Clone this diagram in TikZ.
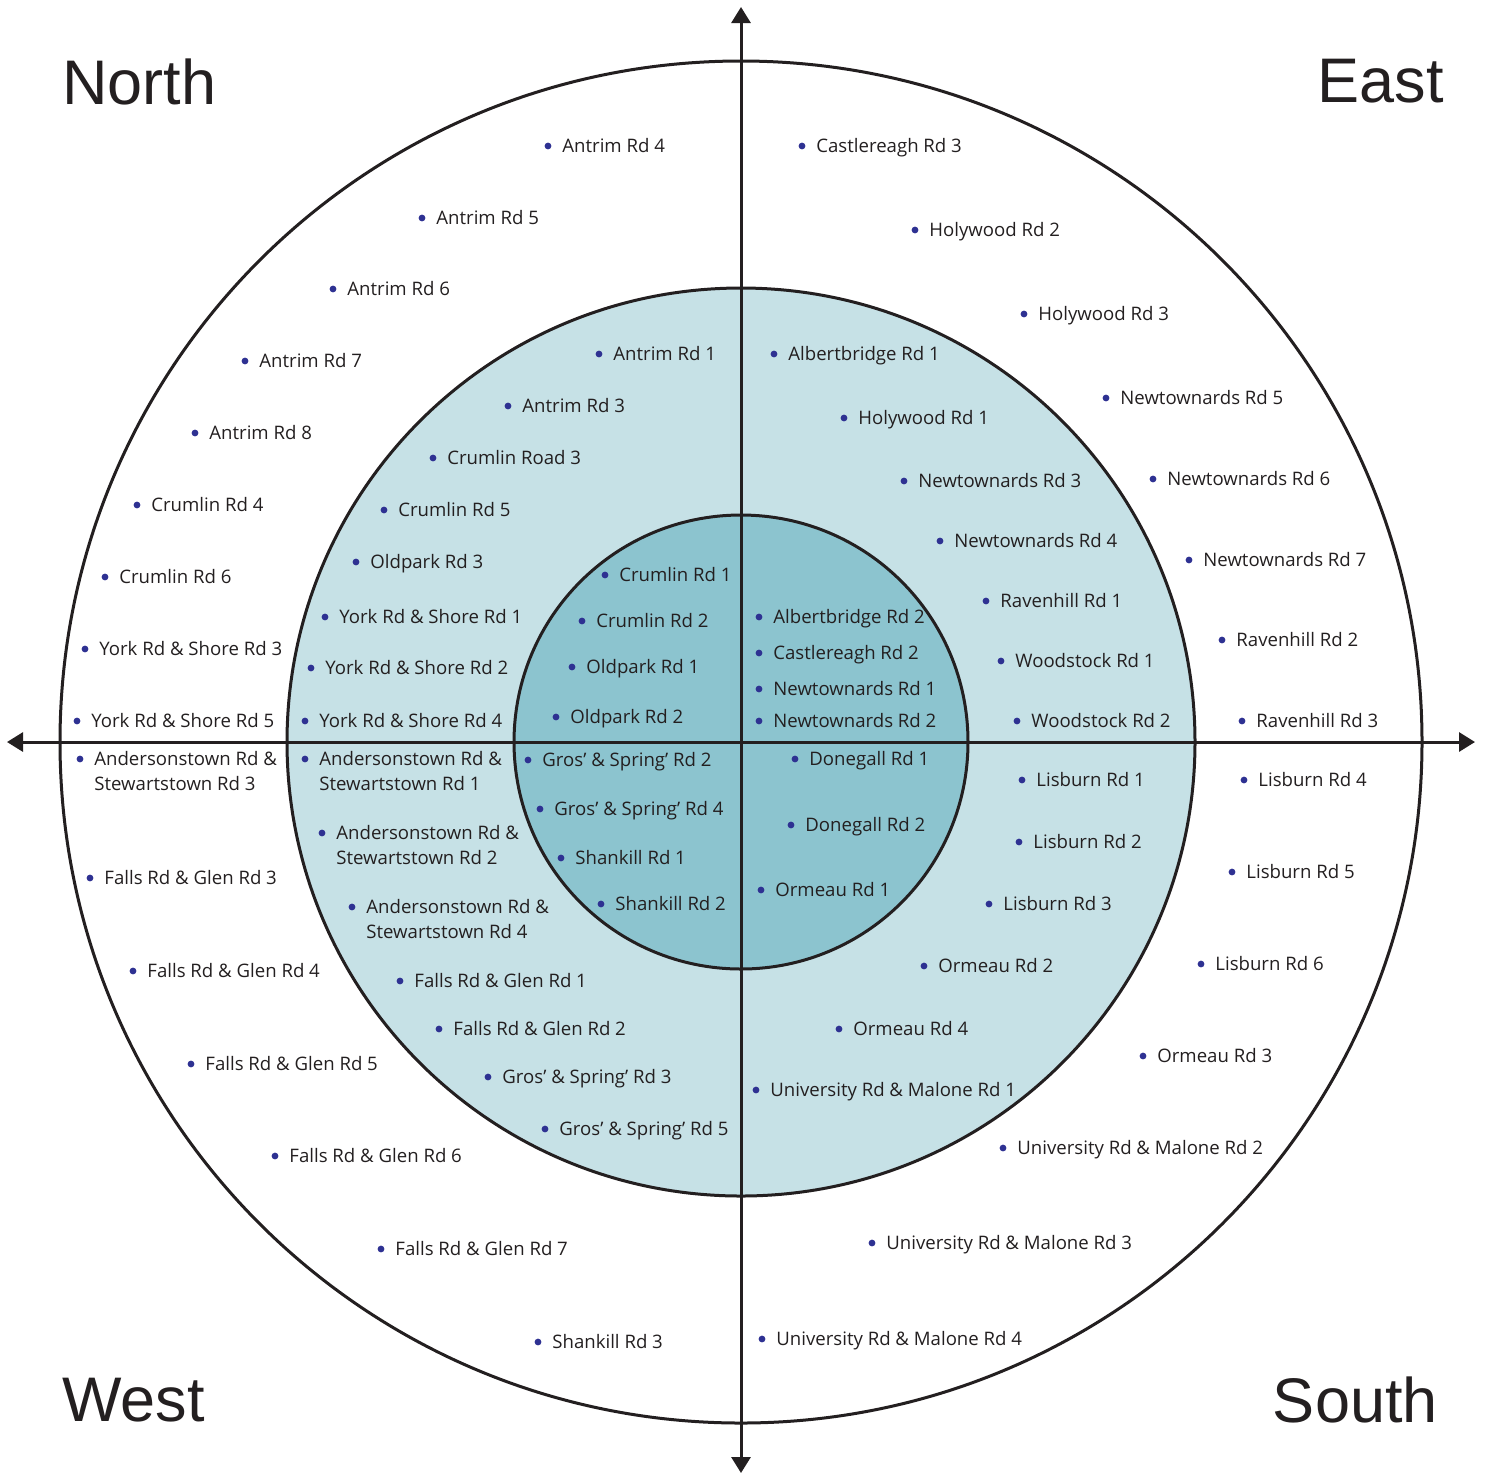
\documentclass[tikz,border=0pt]{standalone}
\usepackage{fontspec}
\usepackage{xcolor}
\usepackage{tikz}
\usetikzlibrary{arrows.meta}
\newfontfamily\rdfont{Open Sans}
\newfontfamily\dirfont{Liberation Sans}
\definecolor{ringmid}{HTML}{C6E1E6}
\definecolor{ringin}{HTML}{8CC4CF}
\definecolor{dotc}{HTML}{2E3192}
\definecolor{txtc}{HTML}{231F20}

\begin{document}
\begin{tikzpicture}[x=0.5pt, y=-0.5pt, >={Triangle[length=8pt, width=9.5pt]}]

\tikzset{
    stop/.style={anchor=base west, inner sep=0pt, xshift=7pt, yshift=-3pt, text=txtc,
                 font=\rdfont\fontsize{9.3}{12.5}\selectfont},
    stoptwo/.style={stop, align=left, yshift=-12.5pt},
    dir/.style={inner sep=0pt, text=txtc, font=\dirfont\fontsize{31.5}{36}\selectfont},
    ring/.style={line width=1.5pt, draw=txtc},
    axis/.style={<->, line width=1.5pt, draw=txtc}
}

\useasboundingbox (0,0) rectangle (1486,1474);

% -- rings --
\coordinate (C) at (741,742);
\fill[ringmid] (C) circle (454);
\fill[ringin]  (C) circle (227);
\draw[ring] (C) circle (681);
\draw[ring] (C) circle (454);
\draw[ring] (C) circle (227);

% -- axes --
\coordinate (top)    at (741,7);
\coordinate (bottom) at (741,1473);
\coordinate (left)   at (7,742);
\coordinate (right)  at (1475,742);
\draw[axis] (bottom) -- (top);
\draw[axis] (left) -- (right);

% -- compass labels --
\node[dir, anchor=base west] (north) at (62,104)   {North};
\node[dir, anchor=base east] (east)  at (1444,102) {East};
\node[dir, anchor=base west] (west)  at (62,1421)  {West};
\node[dir, anchor=base east] (south) at (1438,1422) {South};

% -- north, outer ring --
\fill[fill=dotc] (548,146) circle (3.4) node[stop] (ant4) {Antrim Rd 4};
\fill[fill=dotc] (422,218) circle (3.4) node[stop] (ant5) {Antrim Rd 5};
\fill[fill=dotc] (333,289) circle (3.4) node[stop] (ant6) {Antrim Rd 6};
\fill[fill=dotc] (245,361) circle (3.4) node[stop] (ant7) {Antrim Rd 7};
\fill[fill=dotc] (195,433) circle (3.4) node[stop] (ant8) {Antrim Rd 8};
\fill[fill=dotc] (137,505) circle (3.4) node[stop] (cru4) {Crumlin Rd 4};
\fill[fill=dotc] (105,577) circle (3.4) node[stop] (cru6) {Crumlin Rd 6};
\fill[fill=dotc] (85,649)  circle (3.4) node[stop] (york3) {York Rd \& Shore Rd 3};
\fill[fill=dotc] (77,721)  circle (3.4) node[stop] (york5) {York Rd \& Shore Rd 5};

% -- north, middle ring --
\fill[fill=dotc] (599,354) circle (3.4) node[stop] (ant1) {Antrim Rd 1};
\fill[fill=dotc] (508,406) circle (3.4) node[stop] (ant3) {Antrim Rd 3};
\fill[fill=dotc] (433,458) circle (3.4) node[stop] (cru3) {Crumlin Road 3};
\fill[fill=dotc] (384,510) circle (3.4) node[stop] (cru5) {Crumlin Rd 5};
\fill[fill=dotc] (356,562) circle (3.4) node[stop] (old3) {Oldpark Rd 3};
\fill[fill=dotc] (325,617) circle (3.4) node[stop] (york1) {York Rd \& Shore Rd 1};
\fill[fill=dotc] (311,668) circle (3.4) node[stop] (york2) {York Rd \& Shore Rd 2};
\fill[fill=dotc] (305,721) circle (3.4) node[stop] (york4) {York Rd \& Shore Rd 4};

% -- north, inner ring --
\fill[fill=dotc] (605,575) circle (3.4) node[stop] (cru1) {Crumlin Rd 1};
\fill[fill=dotc] (582,621) circle (3.4) node[stop] (cru2) {Crumlin Rd 2};
\fill[fill=dotc] (572,667) circle (3.4) node[stop] (old1) {Oldpark Rd 1};
\fill[fill=dotc] (556,717) circle (3.4) node[stop] (old2) {Oldpark Rd 2};

% -- east, outer ring --
\fill[fill=dotc] (802,146)  circle (3.4) node[stop] (cas3) {Castlereagh Rd 3};
\fill[fill=dotc] (915,230)  circle (3.4) node[stop] (hol2) {Holywood Rd 2};
\fill[fill=dotc] (1024,314) circle (3.4) node[stop] (hol3) {Holywood Rd 3};
\fill[fill=dotc] (1106,398) circle (3.4) node[stop] (new5) {Newtownards Rd 5};
\fill[fill=dotc] (1153,479) circle (3.4) node[stop] (new6) {Newtownards Rd 6};
\fill[fill=dotc] (1189,560) circle (3.4) node[stop] (new7) {Newtownards Rd 7};
\fill[fill=dotc] (1222,640) circle (3.4) node[stop] (rav2) {Ravenhill Rd 2};
\fill[fill=dotc] (1242,721) circle (3.4) node[stop] (rav3) {Ravenhill Rd 3};

% -- east, middle ring --
\fill[fill=dotc] (774,354)  circle (3.4) node[stop] (alb1) {Albertbridge Rd 1};
\fill[fill=dotc] (844,418)  circle (3.4) node[stop] (hol1) {Holywood Rd 1};
\fill[fill=dotc] (904,481)  circle (3.4) node[stop] (new3) {Newtownards Rd 3};
\fill[fill=dotc] (940,541)  circle (3.4) node[stop] (new4) {Newtownards Rd 4};
\fill[fill=dotc] (986,601)  circle (3.4) node[stop] (rav1) {Ravenhill Rd 1};
\fill[fill=dotc] (1001,661) circle (3.4) node[stop] (woo1) {Woodstock Rd 1};
\fill[fill=dotc] (1017,721) circle (3.4) node[stop] (woo2) {Woodstock Rd 2};

% -- east, inner ring --
\fill[fill=dotc] (759,617) circle (3.4) node[stop] (alb2) {Albertbridge Rd 2};
\fill[fill=dotc] (759,653) circle (3.4) node[stop] (cas2) {Castlereagh Rd 2};
\fill[fill=dotc] (759,689) circle (3.4) node[stop] (new1) {Newtownards Rd 1};
\fill[fill=dotc] (759,721) circle (3.4) node[stop] (new2) {Newtownards Rd 2};

% -- south, inner ring --
\fill[fill=dotc] (795,759) circle (3.4) node[stop] (don1) {Donegall Rd 1};
\fill[fill=dotc] (791,825) circle (3.4) node[stop] (don2) {Donegall Rd 2};
\fill[fill=dotc] (761,890) circle (3.4) node[stop] (orm1) {Ormeau Rd 1};

% -- south, middle ring --
\fill[fill=dotc] (1022,780) circle (3.4) node[stop] (lis1) {Lisburn Rd 1};
\fill[fill=dotc] (1019,842) circle (3.4) node[stop] (lis2) {Lisburn Rd 2};
\fill[fill=dotc] (989,904)  circle (3.4) node[stop] (lis3) {Lisburn Rd 3};
\fill[fill=dotc] (924,966)  circle (3.4) node[stop] (orm2) {Ormeau Rd 2};
\fill[fill=dotc] (839,1029) circle (3.4) node[stop] (orm4) {Ormeau Rd 4};
\fill[fill=dotc] (756,1090) circle (3.4) node[stop] (uni1) {University Rd \& Malone Rd 1};

% -- south, outer ring --
\fill[fill=dotc] (1244,780)  circle (3.4) node[stop] (lis4) {Lisburn Rd 4};
\fill[fill=dotc] (1232,872)  circle (3.4) node[stop] (lis5) {Lisburn Rd 5};
\fill[fill=dotc] (1201,964)  circle (3.4) node[stop] (lis6) {Lisburn Rd 6};
\fill[fill=dotc] (1143,1056) circle (3.4) node[stop] (orm3) {Ormeau Rd 3};
\fill[fill=dotc] (1003,1148) circle (3.4) node[stop] (uni2) {University Rd \& Malone Rd 2};
\fill[fill=dotc] (872,1243)  circle (3.4) node[stop] (uni3) {University Rd \& Malone Rd 3};
\fill[fill=dotc] (762,1339)  circle (3.4) node[stop] (uni4) {University Rd \& Malone Rd 4};

% -- west, inner ring --
\fill[fill=dotc] (528,760) circle (3.4) node[stop] (gro2) {Gros’ \& Spring’ Rd 2};
\fill[fill=dotc] (540,809) circle (3.4) node[stop] (gro4) {Gros’ \& Spring’ Rd 4};
\fill[fill=dotc] (561,858) circle (3.4) node[stop] (sha1) {Shankill Rd 1};
\fill[fill=dotc] (601,904) circle (3.4) node[stop] (sha2) {Shankill Rd 2};

% -- west, middle ring --
\fill[fill=dotc] (305,759)  circle (3.4) node[stoptwo] (and1) {Andersonstown Rd \&\\Stewartstown Rd 1};
\fill[fill=dotc] (322,833)  circle (3.4) node[stoptwo] (and2) {Andersonstown Rd \&\\Stewartstown Rd 2};
\fill[fill=dotc] (352,907)  circle (3.4) node[stoptwo] (and4) {Andersonstown Rd \&\\Stewartstown Rd 4};
\fill[fill=dotc] (400,981)  circle (3.4) node[stop] (fal1) {Falls Rd \& Glen Rd 1};
\fill[fill=dotc] (439,1029) circle (3.4) node[stop] (fal2) {Falls Rd \& Glen Rd 2};
\fill[fill=dotc] (488,1077) circle (3.4) node[stop] (gro3) {Gros’ \& Spring’ Rd 3};
\fill[fill=dotc] (545,1129) circle (3.4) node[stop] (gro5) {Gros’ \& Spring’ Rd 5};

% -- west, outer ring --
\fill[fill=dotc] (80,759)   circle (3.4) node[stoptwo] (and3) {Andersonstown Rd \&\\Stewartstown Rd 3};
\fill[fill=dotc] (90,878)   circle (3.4) node[stop] (fal3) {Falls Rd \& Glen Rd 3};
\fill[fill=dotc] (133,971)  circle (3.4) node[stop] (fal4) {Falls Rd \& Glen Rd 4};
\fill[fill=dotc] (191,1064) circle (3.4) node[stop] (fal5) {Falls Rd \& Glen Rd 5};
\fill[fill=dotc] (275,1156) circle (3.4) node[stop] (fal6) {Falls Rd \& Glen Rd 6};
\fill[fill=dotc] (381,1249) circle (3.4) node[stop] (fal7) {Falls Rd \& Glen Rd 7};
\fill[fill=dotc] (538,1342) circle (3.4) node[stop] (sha3) {Shankill Rd 3};

\end{tikzpicture}
\end{document}
